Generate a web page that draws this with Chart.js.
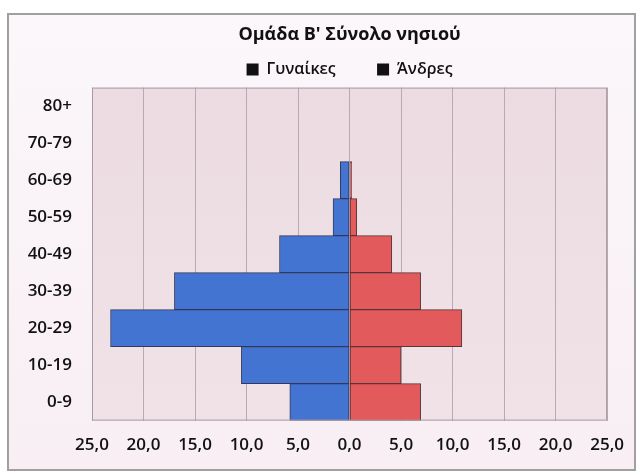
<!DOCTYPE html>
<html>
<head>
<meta charset="utf-8">
<script src="https://cdn.jsdelivr.net/npm/chart.js@4.4.1/dist/chart.umd.min.js"></script>
<style>
  html, body { margin: 0; padding: 0; background: #fff; }
  #wrap { width: 638px; height: 473px; position: relative; }
</style>
</head>
<body>
<div id="wrap"><canvas id="pyramid" width="638" height="473"></canvas></div>
<script>
// age groups, top to bottom
const ageGroups = ['80+','70-79','60-69','50-59','40-49','30-39','20-29','10-19','0-9'];
// percentages
const women = [0, 0, 0.9, 1.6, 6.8, 17.0, 23.2, 10.5, 5.8];
const men   = [0, 0, 0.2, 0.7, 4.1, 6.9, 10.9, 5.0, 6.9];
const xTicks = [-25,-20,-15,-10,-5,0,5,10,15,20,25];

// page frame + plot background
const frame = {
  id: 'frame',
  beforeDraw(chart) {
    const c = chart.ctx, a = chart.chartArea;
    c.save();
    const g = c.createLinearGradient(0, 14, 0, 470);
    g.addColorStop(0, '#fbf7fa');
    g.addColorStop(1, '#f8eef4');
    c.fillStyle = g;
    c.fillRect(8, 14, 627, 456);
    c.strokeStyle = '#a0a0a0';
    c.lineWidth = 2;
    c.strokeRect(8, 14, 627, 456);
    const pg = c.createLinearGradient(0, a.top, 0, a.bottom);
    pg.addColorStop(0, '#ecdce2');
    pg.addColorStop(1, '#f0e2e7');
    c.fillStyle = pg;
    c.fillRect(a.left, a.top, a.right - a.left, a.bottom - a.top);
    c.restore();
  },
  afterDatasetsDraw(chart) {
    const c = chart.ctx, a = chart.chartArea;
    c.save();
    c.strokeStyle = '#a89aa0';
    c.lineWidth = 1;
    c.strokeRect(a.left + 0.5, a.top + 0.5, a.right - a.left - 1, a.bottom - a.top - 1);
    c.restore();
  }
};

const fmt = v => Math.abs(v).toFixed(1).replace('.', ',');

new Chart(document.getElementById('pyramid'), {
  type: 'bar',
  data: {
    labels: ageGroups,
    datasets: [
      { label: 'Γυναίκες', data: women.map(v => -v), backgroundColor: '#4474d2',
        borderColor: '#34385a', borderWidth: 1, borderSkipped: false },
      { label: 'Άνδρες', data: men, backgroundColor: '#e35a5c',
        borderColor: '#5a3438', borderWidth: 1, borderSkipped: false }
    ]
  },
  options: {
    indexAxis: 'y',
    responsive: false,
    animation: false,
    layout: { padding: { left: 14, right: 30, top: 24, bottom: 4 } },
    datasets: { bar: { barPercentage: 1, categoryPercentage: 1, grouped: false } },
    plugins: {
      title: {
        display: true,
        fullSize: false,
        text: 'Ομάδα Β\' Σύνολο νησιού',
        color: '#111',
        font: { family: 'Open Sans', size: 18, weight: 'bold' },
        padding: { top: 0, bottom: 12 }
      },
      legend: {
        position: 'top',
        fullSize: false,
        labels: {
          color: '#111',
          font: { family: 'Open Sans', size: 16, weight: '600' },
          boxWidth: 12, boxHeight: 12, padding: 4,
          generateLabels(chart) {
            return chart.data.datasets.map((d, i) => ({
              text: i === 0 ? d.label + '         ' : d.label,
              fillStyle: '#111', strokeStyle: '#111', lineWidth: 0,
              datasetIndex: i, fontColor: '#111'
            }));
          }
        }
      },
      tooltip: { enabled: false }
    },
    scales: {
      x: {
        stacked: true,
        min: -25, max: 25,
        afterBuildTicks(s) { s.ticks = xTicks.map(v => ({ value: v })); },
        ticks: { callback: fmt, color: '#111', padding: 14, maxRotation: 0,
                 font: { family: 'Open Sans', size: 17, weight: '600' } },
        grid: { color: '#b9aab1', drawTicks: false },
        border: { display: false }
      },
      y: {
        stacked: true,
        afterFit(s) { s.width = 78; },
        ticks: { color: '#111', padding: 12,
                 font: { family: 'Open Sans', size: 17, weight: '600' } },
        grid: { display: false },
        border: { display: false }
      }
    }
  },
  plugins: [frame]
});
</script>
</body>
</html>
